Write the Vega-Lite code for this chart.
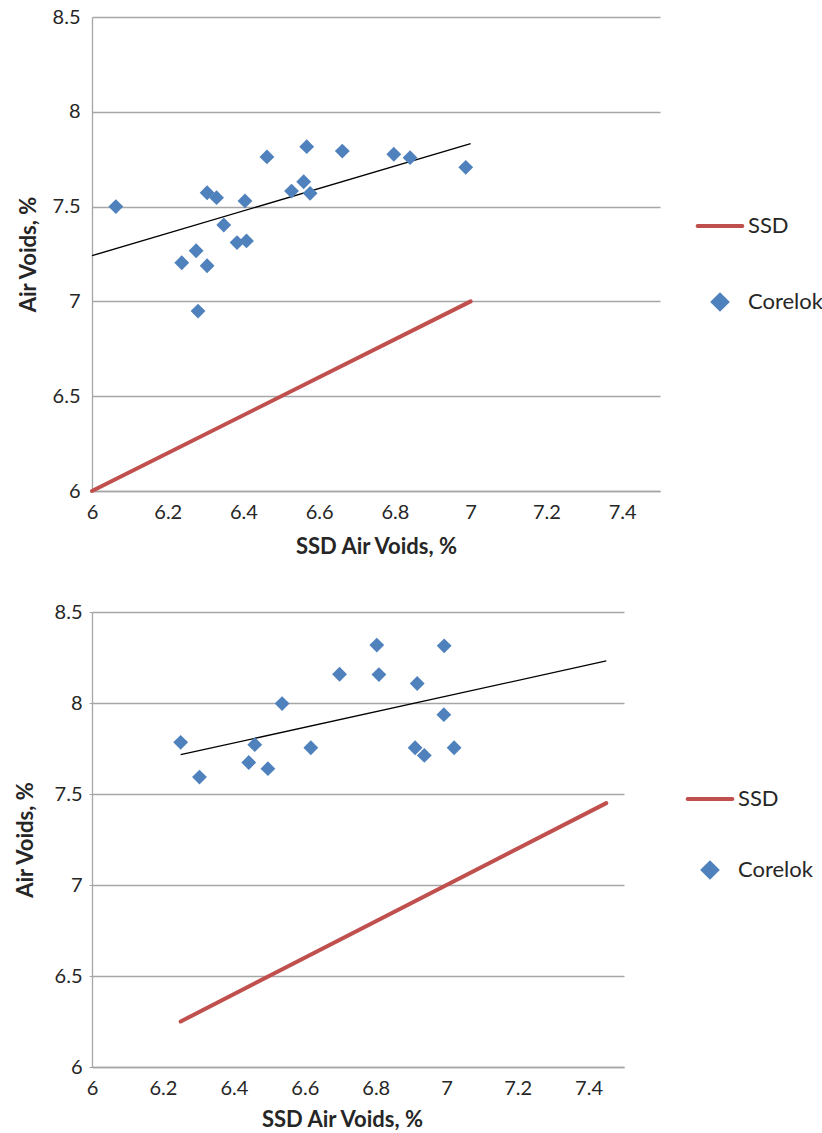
{
  "$schema": "https://vega.github.io/schema/vega-lite/v6.json",
  "background": "white",
  "padding": {"left": 14, "top": 7, "right": 0, "bottom": 0},
  "spacing": 45,
  "config": {
    "font": "Lato",
    "view": {"stroke": null},
    "axis": {
      "labelFont": "Lato", "labelFontSize": 20, "labelColor": "#262626",
      "titleFont": "Lato", "titleFontSize": 22, "titleFontWeight": "bold", "titleColor": "#262626",
      "domainColor": "#A6A6A6", "domainWidth": 1.3, "gridColor": "#A6A6A6", "gridWidth": 1.3,
      "tickColor": "#A6A6A6", "labelFlush": false, "labelOverlap": false, "format": "~g"
    },
    "legend": {"labelFont": "Lato", "labelFontSize": 22, "labelColor": "#262626"}
  },
  "datasets": {
    "topPts": [
      {"x": 6.063, "y": 7.50, "series": "Corelok"},
      {"x": 6.462, "y": 7.762, "series": "Corelok"},
      {"x": 6.567, "y": 7.816, "series": "Corelok"},
      {"x": 6.661, "y": 7.793, "series": "Corelok"},
      {"x": 6.797, "y": 7.776, "series": "Corelok"},
      {"x": 6.840, "y": 7.758, "series": "Corelok"},
      {"x": 6.987, "y": 7.707, "series": "Corelok"},
      {"x": 6.559, "y": 7.631, "series": "Corelok"},
      {"x": 6.527, "y": 7.582, "series": "Corelok"},
      {"x": 6.576, "y": 7.570, "series": "Corelok"},
      {"x": 6.304, "y": 7.573, "series": "Corelok"},
      {"x": 6.329, "y": 7.547, "series": "Corelok"},
      {"x": 6.404, "y": 7.530, "series": "Corelok"},
      {"x": 6.348, "y": 7.403, "series": "Corelok"},
      {"x": 6.383, "y": 7.310, "series": "Corelok"},
      {"x": 6.408, "y": 7.319, "series": "Corelok"},
      {"x": 6.275, "y": 7.267, "series": "Corelok"},
      {"x": 6.237, "y": 7.204, "series": "Corelok"},
      {"x": 6.304, "y": 7.188, "series": "Corelok"},
      {"x": 6.280, "y": 6.949, "series": "Corelok"}
    ],
    "topSSD": [
      {"x": 6, "y": 6, "series": "SSD"},
      {"x": 7, "y": 7, "series": "SSD"}
    ],
    "topTrend": [
      {"x": 6, "y": 7.241},
      {"x": 7, "y": 7.832}
    ],
    "botPts": [
      {"x": 6.250, "y": 7.784, "series": "Corelok"},
      {"x": 6.303, "y": 7.593, "series": "Corelok"},
      {"x": 6.442, "y": 7.673, "series": "Corelok"},
      {"x": 6.459, "y": 7.771, "series": "Corelok"},
      {"x": 6.496, "y": 7.639, "series": "Corelok"},
      {"x": 6.536, "y": 7.997, "series": "Corelok"},
      {"x": 6.617, "y": 7.754, "series": "Corelok"},
      {"x": 6.698, "y": 8.158, "series": "Corelok"},
      {"x": 6.803, "y": 8.318, "series": "Corelok"},
      {"x": 6.809, "y": 8.156, "series": "Corelok"},
      {"x": 6.917, "y": 8.107, "series": "Corelok"},
      {"x": 6.993, "y": 8.314, "series": "Corelok"},
      {"x": 6.992, "y": 7.936, "series": "Corelok"},
      {"x": 6.911, "y": 7.754, "series": "Corelok"},
      {"x": 6.937, "y": 7.712, "series": "Corelok"},
      {"x": 7.021, "y": 7.754, "series": "Corelok"}
    ],
    "botSSD": [
      {"x": 6.25, "y": 6.25, "series": "SSD"},
      {"x": 7.45, "y": 7.45, "series": "SSD"}
    ],
    "botTrend": [
      {"x": 6.25, "y": 7.716},
      {"x": 7.45, "y": 8.231}
    ]
  },
  "vconcat": [
    {
      "width": 568,
      "height": 474,
      "encoding": {
        "x": {
          "field": "x", "type": "quantitative",
          "scale": {"domain": [6, 7.5], "nice": false, "zero": false},
          "axis": {"values": [6, 6.2, 6.4, 6.6, 6.8, 7, 7.2, 7.4], "grid": false, "ticks": false, "labelPadding": 11, "title": "SSD Air Voids, %", "titlePadding": 14}
        },
        "y": {
          "field": "y", "type": "quantitative",
          "scale": {"domain": [6, 8.5], "nice": false, "zero": false},
          "axis": {"values": [6, 6.5, 7, 7.5, 8, 8.5], "grid": true, "ticks": false, "labelPadding": 12, "title": "Air Voids, %", "titlePadding": 12}
        },
        "color": {
          "field": "series", "type": "nominal",
          "scale": {"domain": ["SSD", "Corelok"], "range": ["#C0504D", "#4F81BD"]},
          "legend": {
            "orient": "none", "legendX": 617, "legendY": 198, "title": null,
            "symbolSize": 2000, "rowPadding": 50, "labelOffset": 17,
            "encode": {
              "symbols": {
                "update": {
                  "shape": {"signal": "datum.value === 'SSD' ? 'stroke' : 'diamond'"},
                  "size": {"signal": "datum.value === 'SSD' ? 2000 : 196"},
                  "fill": {"signal": "datum.value === 'SSD' ? 'transparent' : '#4F81BD'"},
                  "stroke": {"signal": "datum.value === 'SSD' ? '#C0504D' : 'transparent'"},
                  "strokeWidth": {"value": 4},
                  "strokeCap": {"value": "round"},
                  "opacity": {"value": 1}
                }
              }
            }
          }
        }
      },
      "layer": [
        {"data": {"name": "topSSD"}, "mark": {"type": "line", "strokeWidth": 4, "strokeCap": "round"}},
        {"data": {"name": "topTrend"}, "mark": {"type": "line", "strokeWidth": 1.3}, "encoding": {"color": {"value": "black"}}},
        {"data": {"name": "topPts"}, "mark": {"type": "point", "shape": "diamond", "filled": true, "size": 220, "opacity": 1}}
      ]
    },
    {
      "width": 532,
      "height": 455,
      "encoding": {
        "x": {
          "field": "x", "type": "quantitative",
          "scale": {"domain": [6, 7.5], "nice": false, "zero": false},
          "axis": {"values": [6, 6.2, 6.4, 6.6, 6.8, 7, 7.2, 7.4], "grid": false, "ticks": false, "labelPadding": 11, "title": "SSD Air Voids, %", "titlePadding": 11, "titleX": 250}
        },
        "y": {
          "field": "y", "type": "quantitative",
          "scale": {"domain": [6, 8.5], "nice": false, "zero": false},
          "axis": {"values": [6, 6.5, 7, 7.5, 8, 8.5], "grid": true, "ticks": true, "tickSize": 3, "labelPadding": 7, "title": "Air Voids, %", "titlePadding": 17}
        },
        "color": {
          "field": "series", "type": "nominal",
          "scale": {"domain": ["SSD", "Corelok"], "range": ["#C0504D", "#4F81BD"]},
          "legend": {
            "orient": "none", "legendX": 607, "legendY": 176, "title": null,
            "symbolSize": 2000, "rowPadding": 45, "labelOffset": 17,
            "encode": {
              "symbols": {
                "update": {
                  "shape": {"signal": "datum.value === 'SSD' ? 'stroke' : 'diamond'"},
                  "size": {"signal": "datum.value === 'SSD' ? 2000 : 196"},
                  "fill": {"signal": "datum.value === 'SSD' ? 'transparent' : '#4F81BD'"},
                  "stroke": {"signal": "datum.value === 'SSD' ? '#C0504D' : 'transparent'"},
                  "strokeWidth": {"value": 4},
                  "strokeCap": {"value": "round"},
                  "opacity": {"value": 1}
                }
              }
            }
          }
        }
      },
      "layer": [
        {"data": {"name": "botSSD"}, "mark": {"type": "line", "strokeWidth": 4, "strokeCap": "round"}},
        {"data": {"name": "botTrend"}, "mark": {"type": "line", "strokeWidth": 1.3}, "encoding": {"color": {"value": "black"}}},
        {"data": {"name": "botPts"}, "mark": {"type": "point", "shape": "diamond", "filled": true, "size": 220, "opacity": 1}}
      ]
    }
  ],
  "resolve": {
    "scale": {"color": "independent", "x": "independent", "y": "independent"},
    "legend": {"color": "independent"}
  }
}
